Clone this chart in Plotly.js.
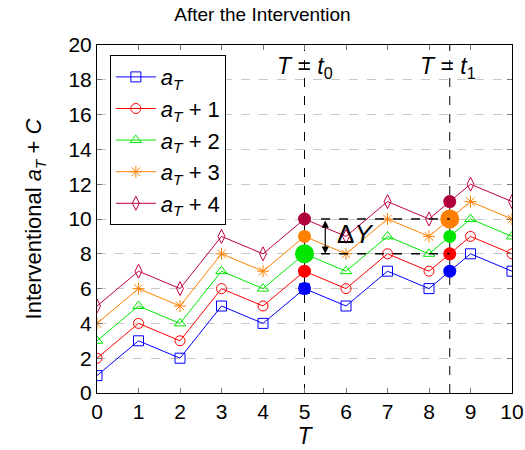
<!DOCTYPE html>
<html><head><meta charset="utf-8">
<script src="https://cdn.plot.ly/plotly-3.0.1.min.js"></script>
<style>body{margin:0;padding:0;background:#fff}#chart{width:525px;height:450px}</style>
</head><body><div id="chart"></div>
<script>
var T = [0,1,2,3,4,5,6,7,8,9,10];
var aT  = [1,3,2,5,4,6,5,7,6,8,7];
var aT1 = [2,4,3,6,5,7,6,8,7,9,8];
var aT2 = [3,5,4,7,6,8,7,9,8,10,9];
var aT3 = [4,6,5,8,7,9,8,10,9,11,10];
var aT4 = [5,7,6,9,8,10,9,11,10,12,11];
var t0 = 5, t1 = 8.5;
var atT0 = [6,7,8,9,10];
var atT1 = [7,8,9,10,11];
var deltaLow = 8, deltaHigh = 10, deltaX = 5.5;
var names = ['<i>a<sub>T</sub></i>','<i>a<sub>T</sub></i> + 1','<i>a<sub>T</sub></i> + 2','<i>a<sub>T</sub></i> + 3','<i>a<sub>T</sub></i> + 4'];
var colors = ['#0000ff','#ff0000','#00e600','#ff8000','#bf0040'];
var symbols = ['square-open','circle-open','triangle-up-open','asterisk-open','diamond-tall-open'];
var series = [aT,aT1,aT2,aT3,aT4];
var FONT = 'Liberation Sans, DejaVu Sans, sans-serif';
var traces = [];
series.forEach(function(s,i){
  traces.push({x:T,y:s,type:'scatter',mode:'lines+markers',name:names[i],
    line:{color:colors[i],width:1},
    marker:{symbol:symbols[i],size:10,color:colors[i],opacity:1,line:{color:colors[i],width:1}}});
});
var big0 = [13,13,19,13,13], big1=[13,13,13,19,13];
var dotColors = ['#0000ff','#ff0000','#00e600','#ff8000','#b0003a'];
traces.push({x:atT0.map(function(){return t0;}),y:atT0,type:'scatter',mode:'markers',showlegend:false,opacity:1,
  marker:{color:dotColors,size:big0,opacity:1,line:{width:0}}});
traces.push({x:atT1.map(function(){return t1;}),y:atT1,type:'scatter',mode:'markers',showlegend:false,opacity:1,
  marker:{color:dotColors,size:big1,opacity:1,line:{width:0}}});

var shapes = [
  {type:'line',xref:'x',yref:'y',x0:t0,x1:t0,y0:0,y1:20,line:{color:'#000',width:1,dash:'dash'},layer:'below'},
  {type:'line',xref:'x',yref:'y',x0:t1,x1:t1,y0:0,y1:20,line:{color:'#000',width:1,dash:'dash'},layer:'below'},
  {type:'line',xref:'x',yref:'y',x0:deltaX-0.1,x1:t1,y0:deltaLow,y1:deltaLow,line:{color:'#000',width:1.5,dash:'dash'}},
  {type:'line',xref:'x',yref:'y',x0:deltaX-0.1,x1:t1,y0:deltaHigh,y1:deltaHigh,line:{color:'#000',width:1.5,dash:'dash'}}
];
var annotations = [
  {x:t0,y:18.7,xref:'x',yref:'y',text:'<i>T</i> = <i>t</i><sub>0</sub>',showarrow:false,font:{family:FONT,size:23,color:'#000'}},
  {x:t1-0.05,y:18.7,xref:'x',yref:'y',text:'<i>T</i> = <i>t</i><sub>1</sub>',showarrow:false,font:{family:FONT,size:23,color:'#000'}},
  {x:deltaX+0.72,y:9.15,xref:'x',yref:'y',text:'Δ<i>Y</i>',showarrow:false,font:{family:FONT,size:26,color:'#000'}},
  {x:deltaX,y:deltaLow,ax:deltaX,ay:deltaHigh,xref:'x',yref:'y',axref:'x',ayref:'y',text:'',showarrow:true,
   arrowhead:2,startarrowhead:2,arrowside:'end+start',arrowsize:1.2,arrowwidth:1.2,arrowcolor:'#000'}
];
var layout = {
  width:525,height:450,paper_bgcolor:'#fff',plot_bgcolor:'#fff',
  margin:{l:97,r:13,t:45,b:57},
  title:{text:'After the Intervention',font:{family:FONT,size:19,color:'#000'},x:0.5,xanchor:'center',y:0.982,yanchor:'top'},
  font:{family:FONT,color:'#000'},
  xaxis:{range:[0,10],tickvals:T,ticktext:T.map(String),showgrid:false,zeroline:false,
    showline:true,linecolor:'#000',linewidth:1,mirror:'ticks',ticks:'inside',ticklen:5,tickcolor:'#777',
    tickfont:{family:FONT,size:21,color:'#000'},
    title:{text:'<i>T</i>',font:{family:FONT,size:23,color:'#000'},standoff:4}},
  yaxis:{range:[0,20],tickvals:[0,2,4,6,8,10,12,14,16,18,20],showgrid:true,gridcolor:'#c8c8c8',griddash:'dash',gridwidth:1,zeroline:false,
    showline:true,linecolor:'#000',linewidth:1,mirror:'ticks',ticks:'inside',ticklen:5,tickcolor:'#777',
    tickfont:{family:FONT,size:21,color:'#000'},
    title:{text:'Interventional <i>a<sub>T</sub></i> + <i>C</i>',font:{family:FONT,size:22,color:'#000'},standoff:20}},
  legend:{x:0.031,y:0.971,xanchor:'left',yanchor:'top',bgcolor:'#fff',bordercolor:'#000',borderwidth:1,
    font:{family:FONT,size:22,color:'#000'},itemwidth:40},
  shapes:shapes,annotations:annotations,showlegend:true
};
Plotly.newPlot('chart',traces,layout,{staticPlot:true,displayModeBar:false});
</script></body></html>
